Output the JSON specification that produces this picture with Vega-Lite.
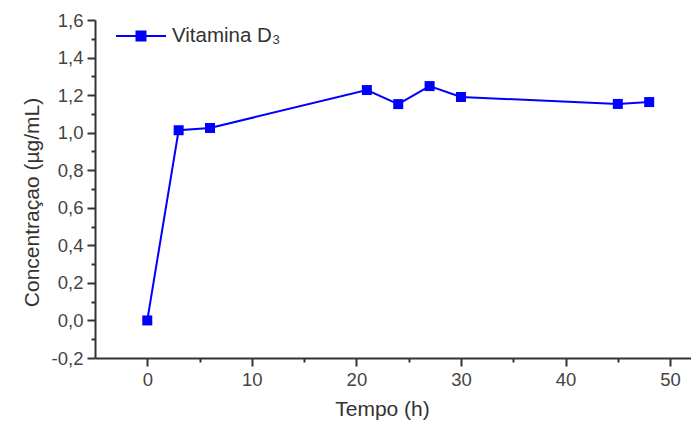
{
  "$schema": "https://vega.github.io/schema/vega-lite/v6.json",
  "autosize": "none",
  "width": 596,
  "height": 338,
  "padding": {"left": 95, "top": 20, "right": 0, "bottom": 67},
  "background": "white",
  "config": {
    "view": {"stroke": null},
    "axis": {"grid": false, "domainColor": "#333", "domainWidth": 2, "tickColor": "#333", "tickWidth": 2,
      "labelFont": "Liberation Sans", "labelFontSize": 18.5, "labelColor": "#444",
      "titleFont": "Liberation Sans", "titleFontSize": 21, "titleFontWeight": "normal", "titleColor": "#333"}
  },
  "data": {"values": [
    {"t": 0, "c": 0.0, "s": "Vitamina D₃"},
    {"t": 3, "c": 1.013, "s": "Vitamina D₃"},
    {"t": 6, "c": 1.025, "s": "Vitamina D₃"},
    {"t": 21, "c": 1.227, "s": "Vitamina D₃"},
    {"t": 24, "c": 1.152, "s": "Vitamina D₃"},
    {"t": 27, "c": 1.248, "s": "Vitamina D₃"},
    {"t": 30, "c": 1.19, "s": "Vitamina D₃"},
    {"t": 45, "c": 1.153, "s": "Vitamina D₃"},
    {"t": 48, "c": 1.163, "s": "Vitamina D₃"}
  ]},
  "mark": {"type": "line", "strokeWidth": 2, "point": {"shape": "square", "size": 100, "filled": true, "opacity": 1}},
  "encoding": {
    "x": {"field": "t", "type": "quantitative", "scale": {"domain": [-5, 52], "nice": false, "zero": false},
      "axis": {"title": "Tempo (h)", "values": [0,5,10,15,20,25,30,35,40,45,50],
        "labelExpr": "datum.value % 10 == 0 ? datum.label : ''",
        "tickSize": {"condition": {"test": "datum.value % 10 == 0", "value": 8}, "value": 4},
        "labelPadding": 4, "titlePadding": 10, "titleX": 287, "labelFlush": false}},
    "y": {"field": "c", "type": "quantitative", "scale": {"domain": [-0.2, 1.6], "nice": false, "zero": false},
      "axis": {"title": "Concentraçao (µg/mL)",
        "values": [-0.2,-0.1,0,0.1,0.2,0.3,0.4,0.5,0.6,0.7,0.8,0.9,1.0,1.1,1.2,1.3,1.4,1.5,1.6],
        "labelExpr": "(round(datum.value*10) % 2 == 0) ? replace(replace(format(datum.value, '.1f'), '.', ','), '−', '-') : ''",
        "tickSize": {"condition": {"test": "round(datum.value*10) % 2 == 0", "value": 8}, "value": 4},
        "labelPadding": 4, "titlePadding": 9, "titleY": 182, "labelFlush": false}},
    "color": {"field": "s", "type": "nominal", "scale": {"range": ["#0000ff"]},
      "legend": {"title": null, "orient": "none", "legendX": 20, "legendY": -10,
        "symbolType": "M-1,0H-0.2M0.2,0H1M-0.18,-0.18H0.18V0.18H-0.18Z",
        "symbolSize": 2500, "symbolStrokeWidth": 2, "symbolFillColor": "#0000ff", "symbolStrokeColor": "#0000ff",
        "labelFont": "Liberation Sans", "labelFontSize": 20.5, "labelColor": "#333", "labelOffset": 5}}
  }
}
